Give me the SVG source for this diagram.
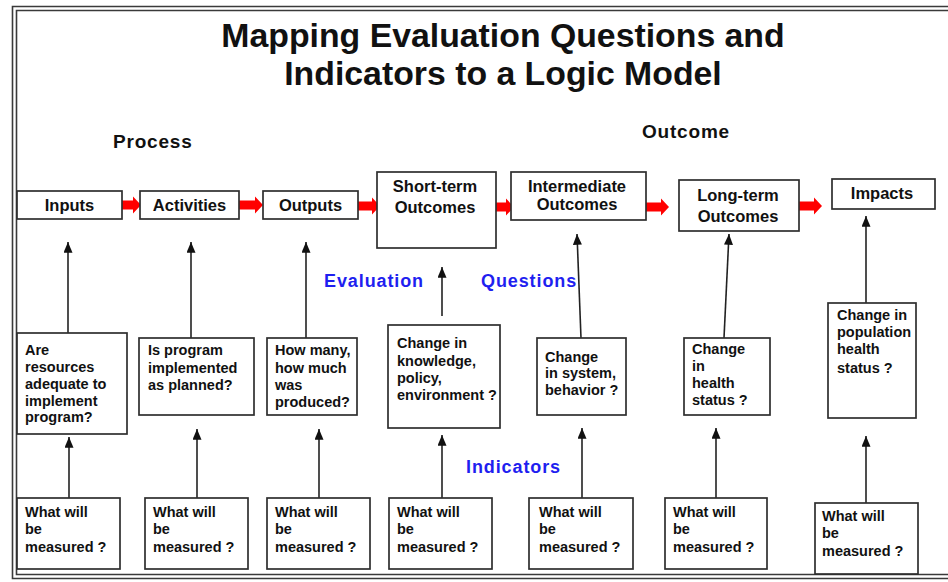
<svg xmlns="http://www.w3.org/2000/svg" width="948" height="582" viewBox="0 0 948 582">
<style>
.frame{fill:none;stroke:#3a3a3a;stroke-width:1.6}
.box{fill:#fff;stroke:#2e2e2e;stroke-width:1.7}
.t{font-family:"Liberation Sans",Arial,sans-serif;font-weight:bold;fill:#111}
.title{font-size:33.8px;text-anchor:middle}
.head{font-size:19px;letter-spacing:0.8px}
.blue{font-size:18px;letter-spacing:0.9px;fill:#1f1ff0}
.nm{font-size:16.5px;text-anchor:middle}
.q{font-size:14.5px}
.red{fill:#ff0000}
.con line{stroke:#222;stroke-width:1.6;marker-end:url(#ah)}
</style>
<defs>
<marker id="ah" viewBox="0 0 12 10" refX="12" refY="5" markerWidth="12" markerHeight="9" markerUnits="userSpaceOnUse" orient="auto">
<path d="M0,0 L12,5 L0,10 z" fill="#111"/>
</marker>
</defs>
<rect width="948" height="582" fill="#fff"/>
<g id="frame">
<path class="frame" d="M948,6.5 H12.5 V578.5 H948"/>
<path class="frame" d="M948,10.5 H16.5 V574.5 H948"/>
</g>
<g id="title">
<text class="t title" x="503" y="47">Mapping Evaluation Questions and</text>
<text class="t title" x="503" y="85">Indicators to a Logic Model</text>
</g>
<g id="section-labels">
<text class="t head" x="113" y="148">Process</text>
<text class="t head" x="642" y="138">Outcome</text>
<text class="t blue" x="324" y="287">Evaluation</text>
<text class="t blue" x="481" y="287">Questions</text>
<text class="t blue" x="466" y="473">Indicators</text>
</g>
<g id="connectors">
<polygon class="red" points="122,200.5 133,200.5 133,196.5 141,205 133,213.5 133,209.5 122,209.5"/>
<polygon class="red" points="239,200.5 255,200.5 255,196.5 263,205 255,213.5 255,209.5 239,209.5"/>
<polygon class="red" points="358,201.5 372,201.5 372,197.5 380,206 372,214.5 372,210.5 358,210.5"/>
<polygon class="red" points="496,202.5 506,202.5 506,198.5 514,207 506,215.5 506,211.5 496,211.5"/>
<polygon class="red" points="643,202.5 661,202.5 661,198.5 669,207 661,215.5 661,211.5 643,211.5"/>
<polygon class="red" points="796,201.5 814,201.5 814,197.5 822,206 814,214.5 814,210.5 796,210.5"/>
<g class="con">
<line x1="68" y1="333" x2="68" y2="242"/>
<line x1="191" y1="338" x2="191" y2="242"/>
<line x1="306" y1="338" x2="306" y2="242"/>
<line x1="442" y1="316" x2="442" y2="267"/>
<line x1="581" y1="338" x2="577" y2="234"/>
<line x1="724" y1="338" x2="729" y2="234"/>
<line x1="866" y1="303" x2="866" y2="216"/>
<line x1="69" y1="498" x2="69" y2="437"/>
<line x1="197" y1="498" x2="197" y2="429"/>
<line x1="319" y1="498" x2="319" y2="429"/>
<line x1="442" y1="498" x2="442" y2="435"/>
<line x1="582" y1="498" x2="582" y2="428"/>
<line x1="716" y1="498" x2="716" y2="428"/>
<line x1="866" y1="503" x2="866" y2="436"/>
</g>
</g>
<g id="inputs"><rect class="box" x="17" y="191" width="105" height="28"/><text class="t nm" x="69.5" y="211">Inputs</text></g>
<g id="activities"><rect class="box" x="140" y="191" width="99" height="28"/><text class="t nm" x="189.5" y="211">Activities</text></g>
<g id="outputs"><rect class="box" x="263" y="191" width="95" height="28"/><text class="t nm" x="310.5" y="211">Outputs</text></g>
<g id="short-term"><rect class="box" x="377" y="172" width="119" height="76"/><text class="t nm" x="435" y="192">Short-term</text><text class="t nm" x="435" y="213">Outcomes</text></g>
<g id="intermediate"><rect class="box" x="511" y="172" width="135" height="48"/><text class="t nm" x="577" y="192">Intermediate</text><text class="t nm" x="577" y="210">Outcomes</text></g>
<g id="long-term"><rect class="box" x="679" y="180" width="120" height="51"/><text class="t nm" x="738" y="201">Long-term</text><text class="t nm" x="738" y="222">Outcomes</text></g>
<g id="impacts"><rect class="box" x="832" y="179" width="103" height="30"/><text class="t nm" x="882" y="199">Impacts</text></g>
<g id="q1"><rect class="box" x="17" y="333" width="110" height="101"/>
<text class="t q" x="25" y="355">Are</text><text class="t q" x="25" y="372">resources</text><text class="t q" x="25" y="389">adequate to</text><text class="t q" x="25" y="406">implement</text><text class="t q" x="25" y="422">program?</text></g>
<g id="q2"><rect class="box" x="139" y="338" width="115" height="77"/>
<text class="t q" x="148" y="355">Is program</text><text class="t q" x="148" y="373">implemented</text><text class="t q" x="148" y="390">as planned?</text></g>
<g id="q3"><rect class="box" x="267" y="338" width="90" height="77"/>
<text class="t q" x="275" y="355">How many,</text><text class="t q" x="275" y="373">how much</text><text class="t q" x="275" y="390">was</text><text class="t q" x="275" y="407">produced?</text></g>
<g id="q4"><rect class="box" x="388" y="325" width="112" height="103"/>
<text class="t q" x="397" y="348">Change in</text><text class="t q" x="397" y="366">knowledge,</text><text class="t q" x="397" y="383">policy,</text><text class="t q" x="397" y="400">environment ?</text></g>
<g id="q5"><rect class="box" x="537" y="338" width="89" height="77"/>
<text class="t q" x="545" y="362">Change</text><text class="t q" x="545" y="378">in system,</text><text class="t q" x="545" y="395">behavior ?</text></g>
<g id="q6"><rect class="box" x="684" y="338" width="86" height="77"/>
<text class="t q" x="692" y="354">Change</text><text class="t q" x="692" y="371">in</text><text class="t q" x="692" y="388">health</text><text class="t q" x="692" y="405">status ?</text></g>
<g id="q7"><rect class="box" x="828" y="303" width="88" height="115"/>
<text class="t q" x="837" y="320">Change in</text><text class="t q" x="837" y="337">population</text><text class="t q" x="837" y="354">health</text><text class="t q" x="837" y="373">status ?</text></g>
<g id="i1"><rect class="box" x="17" y="498" width="103" height="71"/><text class="t q" x="25" y="517">What will</text><text class="t q" x="25" y="534">be</text><text class="t q" x="25" y="552">measured ?</text></g>
<g id="i2"><rect class="box" x="145" y="498" width="103" height="71"/><text class="t q" x="153" y="517">What will</text><text class="t q" x="153" y="534">be</text><text class="t q" x="153" y="552">measured ?</text></g>
<g id="i3"><rect class="box" x="267" y="498" width="103" height="71"/><text class="t q" x="275" y="517">What will</text><text class="t q" x="275" y="534">be</text><text class="t q" x="275" y="552">measured ?</text></g>
<g id="i4"><rect class="box" x="389" y="498" width="103" height="71"/><text class="t q" x="397" y="517">What will</text><text class="t q" x="397" y="534">be</text><text class="t q" x="397" y="552">measured ?</text></g>
<g id="i5"><rect class="box" x="529" y="498" width="104" height="71"/><text class="t q" x="539" y="517">What will</text><text class="t q" x="539" y="534">be</text><text class="t q" x="539" y="552">measured ?</text></g>
<g id="i6"><rect class="box" x="665" y="498" width="102" height="71"/><text class="t q" x="673" y="517">What will</text><text class="t q" x="673" y="534">be</text><text class="t q" x="673" y="552">measured ?</text></g>
<g id="i7"><rect class="box" x="815" y="503" width="103" height="71"/><text class="t q" x="822" y="521">What will</text><text class="t q" x="822" y="538">be</text><text class="t q" x="822" y="556">measured ?</text></g>
</svg>
